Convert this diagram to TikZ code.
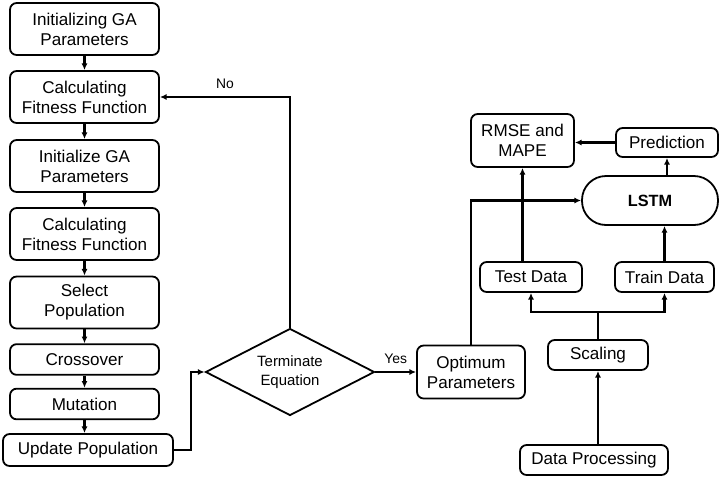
\documentclass[tikz,border=0pt]{standalone}
\usepackage{fontspec}
\setmainfont{Liberation Sans}
\usetikzlibrary{shapes.geometric, arrows.meta, positioning, calc}

\begin{document}
\begin{tikzpicture}[x=0.75pt, y=-0.75pt,
    font=\fontsize{12.8}{15}\selectfont,
    box/.style={draw, line width=1.35pt, rounded corners=5pt, align=center, inner sep=0pt},
    tallbox/.style={box, minimum width=111.75pt, minimum height=39pt},
    flatbox/.style={box, minimum width=111.75pt, minimum height=23pt},
    arr/.style={line width=1.7pt, -{Latex[length=5pt, width=4.5pt]}},
    link/.style={line width=1.7pt},
    small/.style={font=\fontsize{10.4}{12}\selectfont}]
    \useasboundingbox (0,0) rectangle (722,479);

    % GA column (left)
    \node[tallbox] (init1) at (84.5, 29) {Initializing GA\\Parameters};
    \node[tallbox] (fit1) at (84.5, 97) {Calculating\\Fitness Function};
    \node[tallbox] (init2) at (84.5, 166) {Initialize GA\\Parameters};
    \node[tallbox] (fit2) at (84.5, 234) {Calculating\\Fitness Function};
    \node[tallbox] (select) at (84.5, 302.5) {Select\\Population};
    \node[flatbox] (cross) at (84.5, 359.5) {Crossover};
    \node[flatbox] (mutate) at (84.5, 404) {Mutation};
    \node[box, minimum width=127.5pt, minimum height=24pt] (update) at (88, 450) {Update Population};

    \foreach \a/\b in {init1/fit1, fit1/init2, init2/fit2, fit2/select, select/cross, cross/mutate, mutate/update} {
        \draw[arr] (\a.south) -- (\a.south |- \b.north);
    }

    % Decision
    \node[draw, diamond, line width=1.35pt, inner sep=0pt, aspect=1.9,
          minimum width=126.75pt, minimum height=65.25pt, align=center,
          font=\fontsize{11.2}{14}\selectfont] (term) at (290, 372) {Terminate\\Equation};
    \draw[arr] (update.east) -- ++(17,0) |- (term.west);
    \draw[arr] (term.north) |- (fit1.east) node[small, pos=0.75, above=2pt] {No};

    % LSTM side (right)
    \node[box, minimum width=81pt, minimum height=39.75pt] (optim) at (471, 372) {Optimum\\Parameters};
    \node[box, minimum width=77.25pt, minimum height=39.75pt] (rmse) at (522.5, 140.5) {RMSE and\\MAPE};
    \node[box, minimum width=76.5pt, minimum height=21.75pt] (pred) at (667, 142.5) {Prediction};
    \node[box, rounded corners=18pt, minimum width=102pt, minimum height=36.75pt,
          font=\fontsize{12.2}{15}\selectfont\bfseries] (lstm) at (650, 200.5) {LSTM};
    \node[box, minimum width=76.5pt, minimum height=22.5pt] (test) at (531, 277) {Test Data};
    \node[box, minimum width=74.25pt, minimum height=22.5pt] (train) at (664.5, 277) {Train Data};
    \node[box, minimum width=75pt, minimum height=22.5pt] (scaling) at (598, 355) {Scaling};
    \node[box, minimum width=111pt, minimum height=22.5pt] (dataproc) at (594, 460) {Data Processing};
    \coordinate (split) at (598, 312);

    \draw[arr] (term.east) -- (optim.west) node[small, midway, above=2pt] {Yes};
    \draw[arr] (optim.north) |- (lstm.west);
    \draw[arr] (lstm.north -| pred.south) -- (pred.south);
    \draw[arr] (pred.west) -- (pred.west -| rmse.east);
    \draw[arr] (test.north -| rmse.south) -- (rmse.south);
    \draw[arr] (train.north) -- (train.north |- lstm.south);
    \draw[link] (scaling.north) -- (split);
    \draw[arr] (split) -| (test.south);
    \draw[arr] (split) -| (train.south);
    \draw[arr] (dataproc.north -| scaling.south) -- (scaling.south);

\end{tikzpicture}
\end{document}
